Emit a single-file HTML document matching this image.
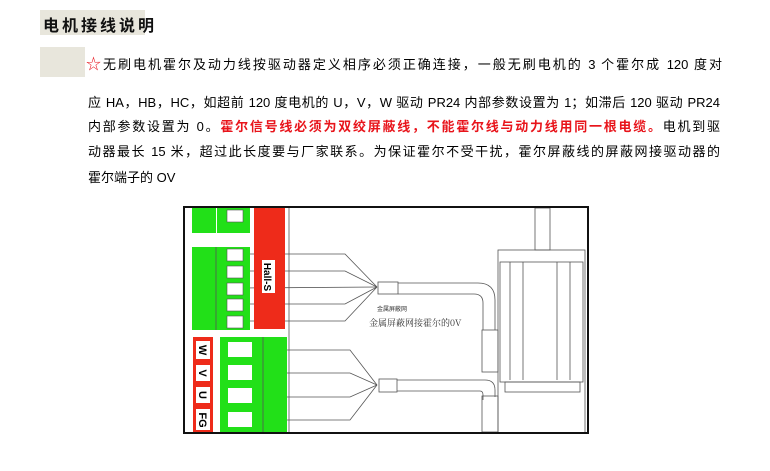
<!DOCTYPE html>
<html><head><meta charset="utf-8"><style>
body{margin:0;width:770px;height:471px;background:#fff;position:relative;overflow:hidden;font-family:"Liberation Sans","Noto Sans CJK SC",sans-serif;}
.l{position:absolute;left:88px;width:632px;font-size:13px;line-height:16px;text-align:justify;text-align-last:justify;white-space:nowrap;color:#000;}
.r{color:#e8141b;font-weight:bold;}
</style></head><body>
<div style="position:absolute;left:40px;top:10px;width:105px;height:25px;background:#e8e6dc;"></div>
<div style="position:absolute;left:43px;top:12px;font-size:16px;letter-spacing:3px;color:#111;font-weight:bold;">电机接线说明</div>
<div style="position:absolute;left:40px;top:47px;width:45px;height:30px;background:#e8e6dc;"></div>
<div class="l" style="top:57px;left:86px;width:636px;"><span style="color:#e8141b;font-size:15px;">☆</span>无刷电机霍尔及动力线按驱动器定义相序必须正确连接，一般无刷电机的 3 个霍尔成 120 度对</div>
<div class="l" style="top:95px;">应 HA，HB，HC，如超前 120 度电机的 U，V，W 驱动 PR24 内部参数设置为 1；如滞后 120 驱动 PR24</div>
<div class="l" style="top:119px;">内部参数设置为 0。<span class="r">霍尔信号线必须为双绞屏蔽线，不能霍尔线与动力线用同一根电缆。</span>电机到驱</div>
<div class="l" style="top:144px;">动器最长 15 米，超过此长度要与厂家联系。为保证霍尔不受干扰，霍尔屏蔽线的屏蔽网接驱动器的</div>
<div class="l" style="top:170px;text-align-last:left;">霍尔端子的 OV</div>
<svg style="position:absolute;left:0;top:0" width="770" height="471" font-family="Liberation Sans, sans-serif">
<g stroke="#555" stroke-width="0.8" fill="none">
<polyline points="243,254 345,254 377,287"/><polyline points="243,271 345,271 377,287"/><polyline points="243,288 377,287"/><polyline points="243,304 345,304 377,287"/><polyline points="243,321 345,321 377,287"/>
<polyline points="287,350 350,350 377,385"/><polyline points="287,373 350,373 377,385"/><polyline points="287,397 350,397 377,385"/><polyline points="287,420 350,420 377,385"/>
<rect x="378" y="282" width="20" height="12" fill="#fff"/><rect x="379" y="379" width="18" height="13" fill="#fff"/>
<path d="M398,283 H478 Q495,283 495,300 V330 M398,294 H474 Q483,294 483,303 V330"/>
<path d="M397,380 H485 Q495,380 495,390 V397 M397,391 H480 Q483,391 483,395 V400"/>
<rect x="482" y="330" width="16" height="42"/><rect x="482" y="396" width="16" height="36"/>
<rect x="498" y="250" width="87" height="183"/><rect x="500" y="262" width="83" height="120"/>
<line x1="510" y1="262" x2="510" y2="380"/><line x1="523" y1="262" x2="523" y2="380"/><line x1="557" y1="262" x2="557" y2="380"/><line x1="570" y1="262" x2="570" y2="380"/>
<rect x="535" y="208" width="15" height="42"/><rect x="505" y="382" width="75" height="10"/>
<line x1="289" y1="208" x2="289" y2="433"/>
</g>
<rect x="192" y="208" width="24" height="25" fill="#22e018"/><rect x="217" y="208" width="33" height="25" fill="#22e018"/>
<rect x="192" y="247" width="58" height="83" fill="#22e018"/><line x1="216" y1="247" x2="216" y2="330" stroke="#555" stroke-width="0.8"/>
<g fill="#fff" stroke="#555" stroke-width="0.6">
<rect x="227" y="210" width="16" height="12"/><rect x="227" y="249" width="16" height="12"/><rect x="227" y="266" width="16" height="12"/><rect x="227" y="283" width="16" height="12"/><rect x="227" y="299" width="16" height="12"/><rect x="227" y="316" width="16" height="12"/>
</g>
<rect x="254" y="208" width="31" height="121" fill="#ee2b1a"/>
<rect x="262" y="260" width="13" height="33" fill="#fff"/>
<text transform="translate(264,277) rotate(90)" font-size="10" font-weight="bold" text-anchor="middle">Hall-S</text>
<rect x="193" y="337" width="20" height="96" fill="#ee2b1a"/>
<rect x="220" y="337" width="67" height="96" fill="#22e018"/><line x1="263" y1="337" x2="263" y2="433" stroke="#555" stroke-width="0.8"/>
<g fill="#fff"><rect x="228" y="342" width="24" height="15"/><rect x="228" y="365" width="24" height="15"/><rect x="228" y="388" width="24" height="15"/><rect x="228" y="412" width="24" height="15"/>
<rect x="196" y="341" width="14" height="18"/><rect x="196" y="365" width="14" height="16"/><rect x="196" y="387" width="14" height="16"/><rect x="196" y="409" width="14" height="21"/></g>
<g font-size="11" font-weight="bold" text-anchor="middle">
<text transform="translate(199,350) rotate(90)">W</text><text transform="translate(199,373) rotate(90)">V</text><text transform="translate(199,395) rotate(90)">U</text><text transform="translate(199,420) rotate(90)">FG</text></g>
<text x="377" y="311" font-size="6" fill="#333" font-family="Noto Sans CJK SC">金属屏蔽网</text>
<text x="369" y="326" font-size="9" fill="#333" font-family="Noto Serif CJK SC">金属屏蔽网接霍尔的0V</text>
<rect x="184" y="207" width="404" height="226" fill="none" stroke="#111" stroke-width="2"/>
</svg>
</body></html>
